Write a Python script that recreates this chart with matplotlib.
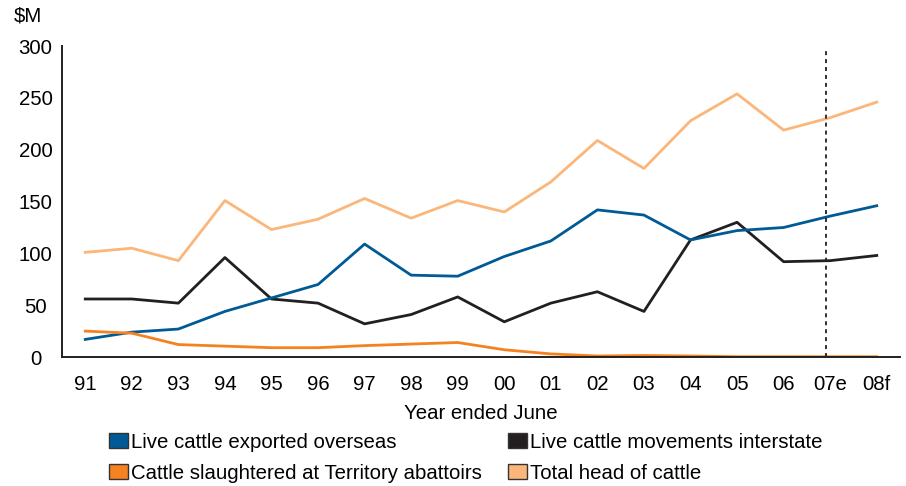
import matplotlib
matplotlib.use("Agg")
import matplotlib.pyplot as plt
from matplotlib.patches import Patch

plt.rcParams['font.family'] = ['Liberation Sans', 'DejaVu Sans']

years = ['91', '92', '93', '94', '95', '96', '97', '98', '99', '00',
         '01', '02', '03', '04', '05', '06', '07e', '08f']

# $M values
exported = [17, 24, 27, 44, 57, 70, 109, 79, 78, 97,
            112, 142, 137, 113, 122, 125, 136, 146]
interstate = [56, 56, 52, 96, 56, 52, 32, 41, 58, 34,
              52, 63, 44, 113, 130, 92, 93, 98]
slaughtered = [25, 23, 12, 10.5, 9, 9, 11, 12.5, 14, 7,
               3, 1, 1.5, 1, 0.3, 0.3, 0.3, 0.3]
total = [101, 105, 93, 151, 123, 133, 153, 134, 151, 140,
         169, 209, 182, 228, 254, 219, 231, 246]

c_blue = '#005a96'
c_black = '#231f20'
c_orange = '#f58220'
c_light = '#fbb67a'
fs = 14.7

fig = plt.figure(figsize=(9.06, 4.86), dpi=100)
ax = fig.add_axes([0.0684, 0.2654, 0.925, 0.6396])

x = range(len(years))
lw = 2.0
ax.plot(x, total, color=c_light, lw=lw)
ax.plot(x, interstate, color=c_black, lw=lw)
ax.plot(x, exported, color=c_blue, lw=lw)
ax.plot(x, slaughtered, color=c_orange, lw=lw)

# forecast divider
ax.plot([15.9, 15.9], [0, 298], color=c_black, lw=1.3, ls=(0, (2.2, 2.2)))

ax.set_xlim(-0.5, 17.5)
ax.set_ylim(0, 300)
ax.set_xticks(list(x))
ax.set_xticklabels(years, fontsize=fs)
ax.set_yticks(range(0, 301, 50))
ax.set_yticklabels([str(v) for v in range(0, 301, 50)], fontsize=fs)
ax.tick_params(length=0)
ax.tick_params(axis='x', pad=13)
ax.tick_params(axis='y', pad=19)
for lbl in ax.get_yticklabels():
    lbl.set_horizontalalignment('center')
for s in ['top', 'right']:
    ax.spines[s].set_visible(False)
for s in ['left', 'bottom']:
    ax.spines[s].set_color('#231f20')
    ax.spines[s].set_linewidth(1.4)

ax.set_xlabel('Year ended June', fontsize=fs, labelpad=7)
fig.text(0.0155, 0.968, '$M', fontsize=fs, ha='left', va='center')

handles = [
    Patch(facecolor=c_blue, edgecolor='#333333', label='Live cattle exported overseas'),
    Patch(facecolor=c_orange, edgecolor='#333333', label='Cattle slaughtered at Territory abattoirs'),
    Patch(facecolor=c_black, edgecolor='#333333', label='Live cattle movements interstate'),
    Patch(facecolor=c_light, edgecolor='#333333', label='Total head of cattle'),
]
fig.legend(handles=handles, ncol=2, frameon=False, fontsize=fs,
           loc='center', bbox_to_anchor=(0.514, 0.058),
           handlelength=0.9, handleheight=0.75, handletextpad=0.15,
           columnspacing=1.3, labelspacing=0.58)

fig.savefig('out.png', dpi=100)
